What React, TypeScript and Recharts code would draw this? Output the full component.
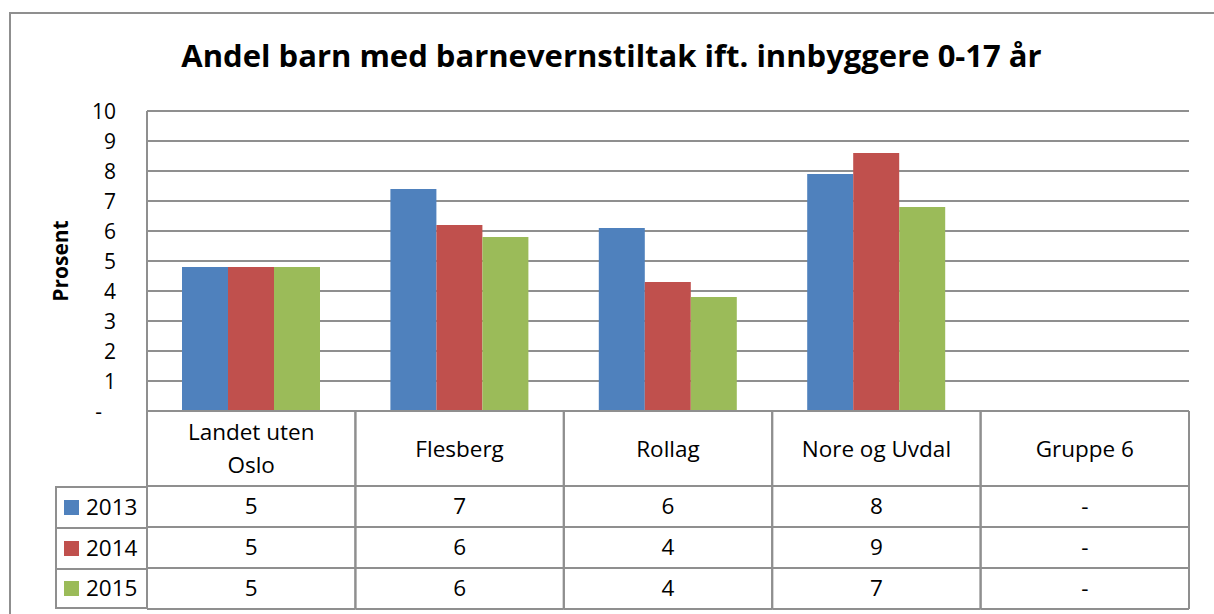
import React from "react";
import { Bar, BarChart, CartesianGrid, Legend, XAxis, YAxis } from "recharts";

const categories = ["Landet uten Oslo", "Flesberg", "Rollag", "Nore og Uvdal", "Gruppe 6"];
const years = ["2013", "2014", "2015"];
const values2013 = [4.8, 7.4, 6.1, 7.9, null];
const values2014 = [4.8, 6.2, 4.3, 8.6, null];
const values2015 = [4.8, 5.8, 3.8, 6.8, null];
const yTicks = [0, 1, 2, 3, 4, 5, 6, 7, 8, 9, 10];
const colors = ["#4F81BD", "#C0504D", "#9BBB59"];

const seriesValues = [values2013, values2014, values2015];

const data = categories.map((name, i) => {
  const row: Record<string, string | number | null> = { name };
  years.forEach((year, s) => {
    row[year] = seriesValues[s][i];
  });
  return row;
});

const FONT = '"Open Sans", "DejaVu Sans", sans-serif';
const LINE = "#8f8f8f";
const CELL_FONT = 22.5;

// layout
const W = 1214;
const H = 614;
const PLOT_LEFT = 147;
const PLOT_RIGHT = 1189;
const PLOT_TOP = 111;
const PLOT_BOTTOM = 411;
const BAND = (PLOT_RIGHT - PLOT_LEFT) / categories.length;
const HEADER_H = 75;
const ROW_H = 41;
const LABEL_MAX_W = 165;

const fmt = (v: number | null) => (v == null ? "-" : String(Math.round(v)));

let measureCtx: CanvasRenderingContext2D | null = null;
const textWidth = (s: string) => {
  if (!measureCtx) measureCtx = document.createElement("canvas").getContext("2d");
  if (!measureCtx) return s.length * CELL_FONT * 0.5;
  measureCtx.font = `${CELL_FONT}px ${FONT}`;
  return measureCtx.measureText(s).width;
};

// greedy word wrap for the header cells
const wrap = (label: string) => {
  const lines: string[] = [];
  let cur = "";
  label.split(" ").forEach(word => {
    const next = cur ? `${cur} ${word}` : word;
    if (cur && textWidth(next) > LABEL_MAX_W) {
      lines.push(cur);
      cur = word;
    } else {
      cur = next;
    }
  });
  if (cur) lines.push(cur);
  return lines;
};

const TableColumn = (props: any) => {
  const { x, y, payload } = props;
  const idx = categories.indexOf(payload.value);
  const left = x - BAND / 2;
  const right = x + BAND / 2;
  const bottom = y + HEADER_H + ROW_H * years.length;
  const lines = wrap(String(payload.value));
  const cy = y + HEADER_H / 2;
  return (
    <g>
      <line x1={left} x2={left} y1={y} y2={bottom} stroke={LINE} strokeWidth={2} />
      <line x1={right} x2={right} y1={y} y2={bottom} stroke={LINE} strokeWidth={2} />
      <line x1={left} x2={right} y1={y} y2={y} stroke={LINE} strokeWidth={2} />
      <line x1={left} x2={right} y1={y + HEADER_H} y2={y + HEADER_H} stroke={LINE} strokeWidth={2} />
      {years.map((_, r) => (
        <line
          key={r}
          x1={left}
          x2={right}
          y1={y + HEADER_H + ROW_H * (r + 1)}
          y2={y + HEADER_H + ROW_H * (r + 1)}
          stroke={LINE}
          strokeWidth={2}
        />
      ))}
      <text textAnchor="middle" fontSize={CELL_FONT} fontFamily={FONT} fill="#000">
        {lines.map((line, i) => (
          <tspan key={i} x={x} y={cy + (i - (lines.length - 1) / 2) * 33} dy="0.36em">
            {line}
          </tspan>
        ))}
      </text>
      {seriesValues.map((vals, r) => (
        <text
          key={r}
          x={x}
          y={y + HEADER_H + ROW_H * r + ROW_H / 2}
          dy="0.34em"
          textAnchor="middle"
          fontSize={CELL_FONT}
          fontFamily={FONT}
          fill="#000"
        >
          {fmt(vals[idx])}
        </text>
      ))}
    </g>
  );
};

const YTick = (props: any) => {
  const { x, y, payload } = props;
  const zero = payload.value === 0;
  return (
    <text
      x={zero ? x - 14 : x}
      y={y}
      dy="0.36em"
      textAnchor="end"
      fontSize={21}
      fontFamily={FONT}
      fill="#000"
    >
      {zero ? "-" : payload.value}
    </text>
  );
};

const LegendColumn = ({ payload }: any) => {
  if (!payload?.length) return null;
  return (
    <div style={{ fontFamily: FONT, fontSize: CELL_FONT, color: "#000" }}>
      {payload.map((item: any, i: number) => (
        <div
          key={item.value}
          style={{
            height: ROW_H,
            boxSizing: "border-box",
            borderTop: `2px solid ${LINE}`,
            borderLeft: `2px solid ${LINE}`,
            borderBottom: i === payload.length - 1 ? `2px solid ${LINE}` : undefined,
            display: "flex",
            alignItems: "center",
            paddingBottom: 3,
          }}
        >
          <span
            style={{ width: 15, height: 15, marginLeft: 7, marginRight: 7, marginTop: 3, backgroundColor: item.color }}
          />
          {item.value}
        </div>
      ))}
    </div>
  );
};

export default function App() {
  return (
    <div style={{ position: "absolute", left: 0, top: 0, width: W, height: H, overflow: "hidden", background: "#fff" }}>
      <div
        style={{
          position: "absolute",
          left: 9,
          top: 12,
          width: 1300,
          height: 800,
          border: `2px solid ${LINE}`,
          boxSizing: "border-box",
        }}
      />
      <div
        style={{
          position: "absolute",
          left: 9,
          width: W - 9,
          top: 36,
          textAlign: "center",
          fontFamily: FONT,
          fontWeight: 700,
          fontSize: 31,
          lineHeight: "38px",
          color: "#000",
        }}
      >
        Andel barn med barnevernstiltak ift. innbyggere 0-17 år
      </div>
      <BarChart
        width={W}
        height={H}
        data={data}
        margin={{ top: PLOT_TOP, right: W - PLOT_RIGHT, bottom: 0, left: 0 }}
        barGap={0}
        barSize={46}
      >
        <CartesianGrid vertical={false} stroke={LINE} strokeWidth={2} />
        <XAxis
          dataKey="name"
          height={H - PLOT_BOTTOM}
          axisLine={false}
          tickLine={false}
          tickSize={0}
          tickMargin={0}
          interval={0}
          tick={<TableColumn />}
        />
        <YAxis
          width={PLOT_LEFT}
          domain={[0, 10]}
          ticks={yTicks}
          interval={0}
          axisLine={{ stroke: LINE, strokeWidth: 2 }}
          tickLine={false}
          tickSize={6}
          tickMargin={25}
          tick={<YTick />}
          label={{
            content: ({ viewBox }: any) => {
              const cx = 60;
              const cy = viewBox.y + viewBox.height / 2;
              return (
                <text
                  x={cx}
                  y={cy}
                  transform={`rotate(-90 ${cx} ${cy})`}
                  textAnchor="middle"
                  dy="0.36em"
                  fontSize={21}
                  fontWeight={700}
                  fontFamily={FONT}
                  fill="#000"
                >
                  Prosent
                </text>
              );
            },
          }}
        />
        <Legend
          layout="vertical"
          align="center"
          verticalAlign="middle"
          wrapperStyle={{ left: 55, top: PLOT_BOTTOM + HEADER_H, width: PLOT_LEFT - 55 + 1, height: ROW_H * years.length }}
          content={LegendColumn}
        />
        {years.map((year, s) => (
          <Bar key={year} dataKey={year} name={year} fill={colors[s]} isAnimationActive={false} />
        ))}
      </BarChart>
    </div>
  );
}
